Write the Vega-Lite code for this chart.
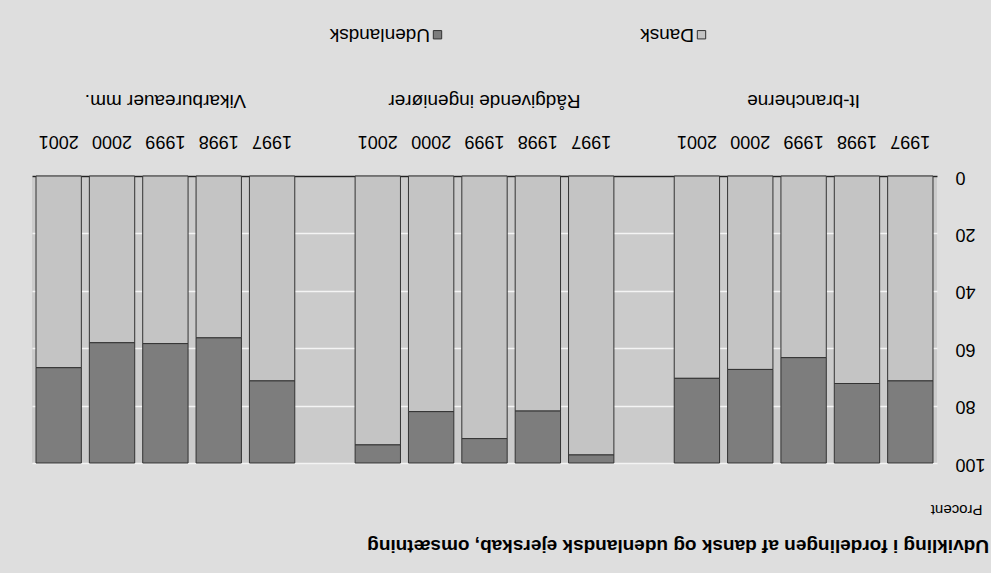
{
  "$schema": "https://vega.github.io/schema/vega-lite/v6.json",
  "width": 905,
  "height": 287,
  "autosize": {"type": "none"},
  "padding": {"left": 32, "top": 176, "right": 54, "bottom": 110},
  "background": "#dedede",
  "config": {
    "font": "Liberation Sans",
    "view": {"stroke": null, "fill": "#cbcbcb"}
  },
  "title": {
    "text": "Udvikling i fordelingen af dansk og udenlandsk ejerskab, omsætning",
    "orient": "bottom",
    "anchor": "end",
    "frame": "group",
    "angle": 180,
    "align": "left",
    "baseline": "middle",
    "dx": -52,
    "offset": 30,
    "fontSize": 19,
    "fontWeight": "bold",
    "color": "#000000"
  },
  "data": {
    "values": [
      {"group": "It-brancherne", "year": "1997", "cat": "Dansk", "value": 71.4},
      {"group": "It-brancherne", "year": "1997", "cat": "Udenlandsk", "value": 28.6},
      {"group": "It-brancherne", "year": "1998", "cat": "Dansk", "value": 72.3},
      {"group": "It-brancherne", "year": "1998", "cat": "Udenlandsk", "value": 27.7},
      {"group": "It-brancherne", "year": "1999", "cat": "Dansk", "value": 63.3},
      {"group": "It-brancherne", "year": "1999", "cat": "Udenlandsk", "value": 36.7},
      {"group": "It-brancherne", "year": "2000", "cat": "Dansk", "value": 67.4},
      {"group": "It-brancherne", "year": "2000", "cat": "Udenlandsk", "value": 32.6},
      {"group": "It-brancherne", "year": "2001", "cat": "Dansk", "value": 70.5},
      {"group": "It-brancherne", "year": "2001", "cat": "Udenlandsk", "value": 29.5},
      {"group": "Rådgivende ingeniører", "year": "1997", "cat": "Dansk", "value": 97.2},
      {"group": "Rådgivende ingeniører", "year": "1997", "cat": "Udenlandsk", "value": 2.8},
      {"group": "Rådgivende ingeniører", "year": "1998", "cat": "Dansk", "value": 81.9},
      {"group": "Rådgivende ingeniører", "year": "1998", "cat": "Udenlandsk", "value": 18.1},
      {"group": "Rådgivende ingeniører", "year": "1999", "cat": "Dansk", "value": 91.5},
      {"group": "Rådgivende ingeniører", "year": "1999", "cat": "Udenlandsk", "value": 8.5},
      {"group": "Rådgivende ingeniører", "year": "2000", "cat": "Dansk", "value": 82.1},
      {"group": "Rådgivende ingeniører", "year": "2000", "cat": "Udenlandsk", "value": 17.9},
      {"group": "Rådgivende ingeniører", "year": "2001", "cat": "Dansk", "value": 93.7},
      {"group": "Rådgivende ingeniører", "year": "2001", "cat": "Udenlandsk", "value": 6.3},
      {"group": "Vikarbureauer mm.", "year": "1997", "cat": "Dansk", "value": 71.4},
      {"group": "Vikarbureauer mm.", "year": "1997", "cat": "Udenlandsk", "value": 28.6},
      {"group": "Vikarbureauer mm.", "year": "1998", "cat": "Dansk", "value": 56.4},
      {"group": "Vikarbureauer mm.", "year": "1998", "cat": "Udenlandsk", "value": 43.6},
      {"group": "Vikarbureauer mm.", "year": "1999", "cat": "Dansk", "value": 58.4},
      {"group": "Vikarbureauer mm.", "year": "1999", "cat": "Udenlandsk", "value": 41.6},
      {"group": "Vikarbureauer mm.", "year": "2000", "cat": "Dansk", "value": 58.1},
      {"group": "Vikarbureauer mm.", "year": "2000", "cat": "Udenlandsk", "value": 41.9},
      {"group": "Vikarbureauer mm.", "year": "2001", "cat": "Dansk", "value": 66.8},
      {"group": "Vikarbureauer mm.", "year": "2001", "cat": "Udenlandsk", "value": 33.2}
    ]
  },
  "encoding": {
    "x": {
      "field": "group",
      "type": "nominal",
      "scale": {
        "domain": ["Vikarbureauer mm.", "Rådgivende ingeniører", "It-brancherne"],
        "paddingInner": 0.164,
        "paddingOuter": 0
      },
      "axis": {
        "orient": "top",
        "title": null,
        "labelAngle": 180,
        "labelAlign": "center",
        "labelBaseline": "middle",
        "labelPadding": 76,
        "labelFontSize": 19,
        "labelLimit": 0,
        "labelColor": "#000000",
        "ticks": false,
        "tickSize": 0,
        "domain": true,
        "domainColor": "#222222",
        "domainWidth": 1.5
      }
    },
    "xOffset": {
      "field": "year",
      "type": "ordinal",
      "scale": {
        "domain": ["2001", "2000", "1999", "1998", "1997"],
        "paddingInner": 0.15,
        "paddingOuter": 0.075
      }
    }
  },
  "layer": [
    {
      "mark": {"type": "bar", "stroke": "#333333", "strokeWidth": 1},
      "encoding": {
        "y": {
          "field": "value",
          "type": "quantitative",
          "stack": "zero",
          "scale": {"domain": [0, 100], "reverse": true, "nice": false},
          "axis": {
            "orient": "right",
            "values": [0, 20, 40, 60, 80, 100],
            "grid": true,
            "gridColor": "#f4f4f4",
            "gridWidth": 1.5,
            "domain": false,
            "ticks": false,
            "tickSize": 0,
            "labelAngle": 180,
            "labelAlign": "right",
            "labelBaseline": "middle",
            "labelPadding": 18,
            "labelFontSize": 18,
            "labelColor": "#000000",
            "title": "Procent",
            "titleAngle": 180,
            "titleAlign": "left",
            "titleBaseline": "middle",
            "titleX": 45,
            "titleY": 333,
            "titleFontSize": 15,
            "titleFontWeight": "normal",
            "titleColor": "#000000"
          }
        },
        "color": {
          "field": "cat",
          "type": "nominal",
          "scale": {"domain": ["Dansk", "Udenlandsk"], "range": ["#c4c4c4", "#7d7d7d"]},
          "legend": {
            "orient": "none",
            "legendX": 396,
            "legendY": -151,
            "direction": "horizontal",
            "values": ["Udenlandsk", "Dansk"],
            "title": null,
            "symbolType": "square",
            "symbolSize": 70,
            "symbolStrokeColor": "#333333",
            "symbolStrokeWidth": 1,
            "labelFontSize": 19,
            "labelColor": "#000000",
            "labelOffset": 4,
            "labelBaseline": "middle",
            "columnPadding": 196,
            "encoding": {
              "labels": {"angle": {"value": 180}, "dx": {"value": 21}}
            }
          }
        },
        "order": {"field": "cat", "sort": "ascending"}
      }
    },
    {
      "transform": [{"filter": "datum.cat === 'Dansk'"}],
      "mark": {"type": "text", "angle": 180, "baseline": "middle", "align": "center", "dy": 35, "fontSize": 18, "color": "#000000"},
      "encoding": {
        "y": {"datum": 0},
        "text": {"field": "year"}
      }
    }
  ]
}
